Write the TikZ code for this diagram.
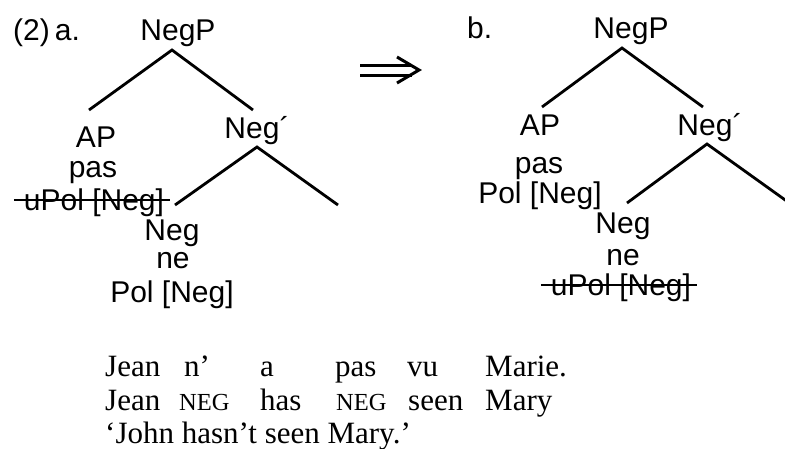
\documentclass[tikz,border=0pt]{standalone}
\usepackage{fontspec}
\setmainfont{Liberation Sans}
\newfontfamily\glossfont{Liberation Serif}
\usetikzlibrary{calc}
\tikzset{
  lab/.style={font=\fontsize{30}{30}\selectfont, inner sep=0pt, anchor=base},
  gl/.style={font=\glossfont\fontsize{31}{31}\selectfont, inner sep=0pt, anchor=base west},
  glsc/.style={font=\glossfont\fontsize{24.5}{24.5}\selectfont, inner sep=0pt, anchor=base west},
  branch/.style={line width=2.8pt},
  strike/.style={line width=2pt},
  arrowline/.style={line width=3pt}
}
\begin{document}
\begin{tikzpicture}[x=1pt,y=-1pt]
\useasboundingbox (0,0) rectangle (785,448);
% ---------- tree (a) ----------
\node[lab, anchor=base west] (alabel) at (13,40) {(2)\,a.};
\node[lab] (aNegP) at (178,40) {NegP};
\node[lab] (aAP) at (96,147) {AP};
\node[lab] (apas) at (93,177) {pas};
\node[lab] (auPol) at (94,210) {uPol [Neg]};
\node[lab] (aNegbar) at (257,138) {Neg´};
\node[lab] (aNeg) at (172,240) {Neg};
\node[lab] (ane) at (173,268) {ne};
\node[lab] (aPol) at (172,302) {Pol [Neg]};
\coordinate (aNegP-s) at (172,50);
\coordinate (aAP-n) at (89,110);
\coordinate (aNegbar-n) at (253,110);
\coordinate (aNegbar-s) at (257,147);
\coordinate (aNeg-n) at (175,205);
\coordinate (aR) at (338,205);
\draw[branch] (aAP-n) -- (aNegP-s) -- (aNegbar-n);
\draw[branch] (aNeg-n) -- (aNegbar-s) -- (aR);
\draw[strike] ($(auPol.base west)+(-10,-10)$) -- ($(auPol.base east)+(6,-10)$);
% ---------- arrow ----------
\coordinate (arrA) at (360,65);
\coordinate (arrB) at (360,75);
\draw[arrowline] (arrA) -- (412,65);
\draw[arrowline] (arrB) -- (412,75);
\draw[arrowline, line join=miter] (397,57) -- (419,70) -- (397,83);
% ---------- tree (b) ----------
\node[lab, anchor=base west] (blabel) at (467,38) {b.};
\node[lab] (bNegP) at (631,38) {NegP};
\node[lab] (bAP) at (540,135) {AP};
\node[lab] (bpas) at (539,173) {pas};
\node[lab] (bPol) at (540,203) {Pol [Neg]};
\node[lab] (bNegbar) at (710,135) {Neg´};
\node[lab] (bNeg) at (623,233) {Neg};
\node[lab] (bne) at (623,265) {ne};
\node[lab] (buPol) at (621,295) {uPol [Neg]};
\coordinate (bNegP-s) at (622,48);
\coordinate (bAP-n) at (542,107);
\coordinate (bNegbar-n) at (703,107);
\coordinate (bNegbar-s) at (707,144);
\coordinate (bNeg-n) at (627,203);
\coordinate (bR) at (788,202);
\draw[branch] (bAP-n) -- (bNegP-s) -- (bNegbar-n);
\draw[branch] (bNeg-n) -- (bNegbar-s) -- (bR);
\draw[strike] ($(buPol.base west)+(-10,-10)$) -- ($(buPol.base east)+(6,-10)$);
% ---------- glosses ----------
\node[gl] (g11) at (105,376) {Jean};
\node[gl] (g12) at (184,376) {n’};
\node[gl] (g13) at (260,376) {a};
\node[gl] (g14) at (335,376) {pas};
\node[gl] (g15) at (407,376) {vu};
\node[gl] (g16) at (485,376) {Marie.};
\node[gl] (g21) at (105,410) {Jean};
\node[glsc] (g22) at (179,410) {NEG};
\node[gl] (g23) at (260,410) {has};
\node[glsc] (g24) at (336,410) {NEG};
\node[gl] (g25) at (408,410) {seen};
\node[gl] (g26) at (485,410) {Mary};
\node[gl] (g31) at (105,443) {‘John hasn’t seen Mary.’};
\end{tikzpicture}
\end{document}
